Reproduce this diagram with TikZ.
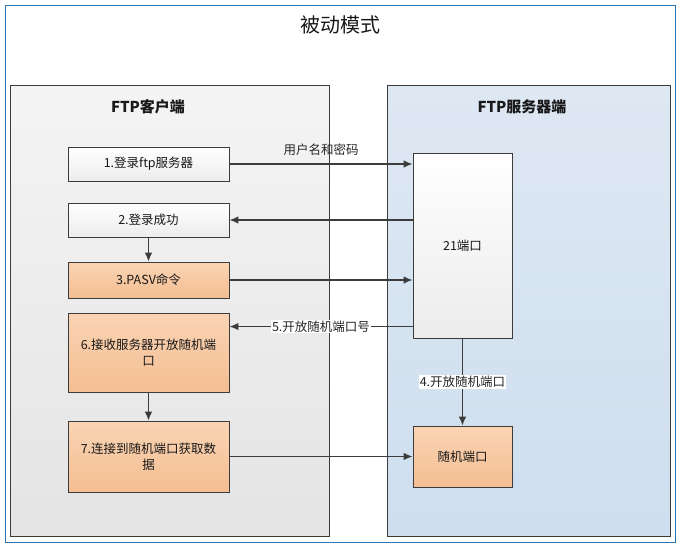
\documentclass[tikz,border=0pt]{standalone}
\usepackage{fontspec}
\setmainfont{Noto Sans CJK SC}
\usetikzlibrary{arrows.meta,calc}
\definecolor{framecol}{RGB}{46,117,182}
\definecolor{linecol}{RGB}{60,60,60}
\definecolor{clientTop}{RGB}{244,244,244}
\definecolor{clientBot}{RGB}{228,228,228}
\definecolor{serverTop}{RGB}{222,232,243}
\definecolor{serverBot}{RGB}{206,222,238}
\definecolor{orTop}{RGB}{250,212,180}
\definecolor{orBot}{RGB}{244,190,146}
\definecolor{whBot}{RGB}{236,236,236}
\tikzset{
  panel/.style={draw=linecol, line width=0.9pt, inner sep=0pt},
  clientpanel/.style={panel, top color=clientTop, bottom color=clientBot},
  serverpanel/.style={panel, top color=serverTop, bottom color=serverBot},
  whitebox/.style={draw=linecol, line width=0.9pt, top color=white, bottom color=whBot, minimum width=161pt, font=\fontsize{12.5}{16}\selectfont, align=center, text=black!90, inner sep=2pt},
  orangebox/.style={whitebox, top color=orTop, bottom color=orBot},
  portbox/.style={whitebox, minimum width=99pt},
  arr/.style={draw=linecol, line width=1.2pt, -{Latex[length=9pt,width=7.5pt]}},
  lbl/.style={font=\fontsize{12.5}{14}\selectfont, text=black!85, inner sep=1pt},
  paneltitle/.style={font=\fontsize{15}{18}\selectfont\bfseries, text=black!90}
}
\begin{document}
\begin{tikzpicture}[x=1pt,y=-1pt]
\useasboundingbox (0,0) rectangle (681,550);
\fill[white] (0,0) rectangle (681,550);
\draw[framecol, line width=1pt] (5,5) rectangle (675,542);
\node[font=\fontsize{20}{24}\selectfont, text=black!90] (title) at (340,25) {被动模式};

\node[clientpanel, minimum width=319pt, minimum height=451pt] (client) at (169.5,310.5) {};
\node[serverpanel, minimum width=283pt, minimum height=451pt] (server) at (528.5,310.5) {};
\node[paneltitle] (ct) at (148,107) {FTP客户端};
\node[paneltitle] (st) at (522,107) {FTP服务器端};

\node[whitebox, minimum height=34pt] (b1) at (148.5,164) {1.登录ftp服务器};
\node[whitebox, minimum height=34pt] (b2) at (148.5,220) {2.登录成功};
\node[orangebox, minimum height=36pt] (b3) at (148.5,280) {3.PASV命令};
\node[orangebox, minimum height=79pt] (b6) at (148.5,352.5) {6.接收服务器开放随机端\\口};
\node[orangebox, minimum height=71pt] (b7) at (148.5,456.5) {7.连接到随机端口获取数\\据};

\node[portbox, top color=white, bottom color=whBot, minimum height=185pt] (p21) at (462.5,245.5) {21端口};
\node[portbox, top color=orTop, bottom color=orBot, minimum height=61pt] (rp) at (462.5,456.5) {随机端口};

\draw[arr] (b1.east) -- node[lbl, above=7pt] {用户名和密码} (b1.east -| p21.west);
\draw[arr] (p21.west |- b2.east) -- (b2.east);
\draw[arr] (b3.east) -- (b3.east -| p21.west);
\coordinate (c5) at ($(b6.north east)+(0,14)$);
\draw[arr] (c5 -| p21.west) -- node[lbl, fill=white] {5.开放随机端口号} (c5);
\draw[arr] (p21.south) -- node[lbl, fill=white] {4.开放随机端口} (rp.north);
\draw[arr] (b7.east) -- (b7.east -| rp.west);
\draw[arr] (b2.south) -- (b3.north);
\draw[arr] (b6.south) -- (b7.north);
\end{tikzpicture}
\end{document}
